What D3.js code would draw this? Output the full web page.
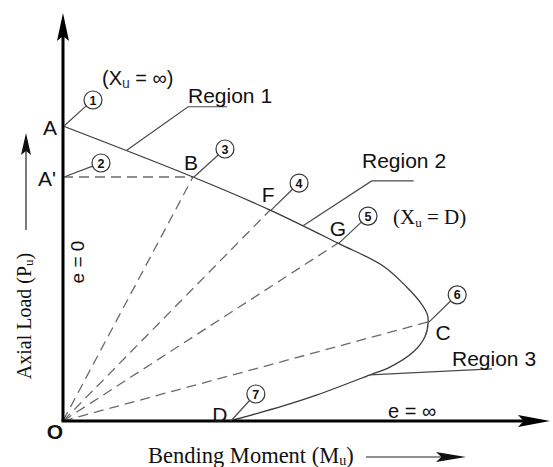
<!DOCTYPE html>
<html>
<head>
<meta charset="utf-8">
<script src="https://cdn.jsdelivr.net/npm/d3@7"></script>
<style>
    body { margin: 0; background: #fff; }
    svg { display: block; }
    .curve { fill: none; stroke: #3a3a3a; stroke-width: 1.3; }
    .radial { fill: none; stroke: #6a6a6a; stroke-width: 1.3; stroke-dasharray: 10 6; }
    .leader { fill: none; stroke: #4a4a4a; stroke-width: 1.2; }
    .sans { font-family: "Liberation Sans", Arial, sans-serif; fill: #111; }
    .serif { font-family: "Liberation Serif", "Times New Roman", serif; fill: #111; }
</style>
</head>
<body>
<svg width="553" height="467"></svg>
<script>
// interaction curve, bending moment (M) vs axial load (P), arbitrary units
const curveM = [0, 26.8, 42.7, 56.7, 66.0, 70.9, 73.6, 75.1, 75.3, 74.6, 72.2, 67.4, 63.3, 52.4, 45.4, 34.4];
const curveP = [72.3, 59.8, 51.7, 43.6, 38.0, 32.8, 29.2, 26.2, 24.3, 20.6, 16.9, 13.2, 11.3, 6.4, 3.7, 0];

// labelled points and their numbered eccentricity lines
const pointNames = ["A", "A'", "B", "F", "G", "C", "D"];
const pointM = [0, 0, 26.8, 42.7, 56.7, 75.3, 34.4];
const pointP = [72.3, 59.8, 59.8, 51.7, 43.6, 24.3, 0];
const pointNums = ["1", "2", "3", "4", "5", "6", "7"];

// dashed lines from the origin (to B, F, G, C)
const radialTo = ["B", "F", "G", "C"];

const regionNames = ["Region 1", "Region 2", "Region 3"];

const svg = d3.select("svg");

const x = d3.scaleLinear().domain([0, 100]).range([63, 548]);
const y = d3.scaleLinear().domain([0, 100]).range([421, 13]);

const pts = pointNames.map((n, i) => ({ name: n, m: pointM[i], p: pointP[i], num: pointNums[i] }));
const byName = n => pts.find(d => d.name === n);

// dashed radial lines
svg.append("g").selectAll("line").data(radialTo).join("line")
    .attr("class", "radial")
    .attr("x1", x(0)).attr("y1", y(0))
    .attr("x2", d => x(byName(d).m)).attr("y2", d => y(byName(d).p));

// A' to B horizontal dash
svg.append("line").attr("class", "radial")
    .attr("x1", x(byName("A'").m)).attr("y1", y(byName("A'").p))
    .attr("x2", x(byName("B").m)).attr("y2", y(byName("B").p));

// interaction curve
const curveData = curveM.map((m, i) => [m, curveP[i]]);
const line = d3.line().x(d => x(d[0])).y(d => y(d[1])).curve(d3.curveCatmullRom.alpha(0.5));
svg.append("path").attr("class", "curve").attr("d", line(curveData));

// axes with arrow heads
const arrowHead = (tx, ty, dir, len, half) => {
    // dir: unit vector pointing toward tip
    const [dx, dy] = dir;
    const bx = tx - dx * len, by = ty - dy * len;
    const nx = -dy, ny = dx;
    const mx = tx - dx * len * 0.82, my = ty - dy * len * 0.82;
    return `M${tx},${ty}L${bx + nx * half},${by + ny * half}L${mx},${my}L${bx - nx * half},${by - ny * half}Z`;
};

svg.append("line").attr("x1", x(0)).attr("y1", y(0)).attr("x2", x(0)).attr("y2", y(100) + 20)
    .attr("stroke", "#000").attr("stroke-width", 3);
svg.append("path").attr("d", arrowHead(x(0), y(100), [0, -1], 28, 6)).attr("fill", "#000");

svg.append("line").attr("x1", x(0) - 1.5).attr("y1", y(0)).attr("x2", x(100) - 20).attr("y2", y(0))
    .attr("stroke", "#000").attr("stroke-width", 3);
svg.append("path").attr("d", arrowHead(x(100) + 2, y(0), [1, 0], 32, 6)).attr("fill", "#000");

// numbered circles and point letters
const labelOff = { "A": [-13, 1], "A'": [-16, 1], "B": [-2, -15], "F": [-2, -16], "G": [0, -15], "C": [15, 11], "D": [-10, -7] };
const circOff = { "A": [30, -26], "A'": [38, -14], "B": [32, -28], "F": [29, -27], "G": [30, -27], "C": [29, -27], "D": [26, -27] };
const r = 9;

const ann = svg.append("g");
pts.forEach(d => {
    const px = x(d.m), py = y(d.p);
    const [cx, cy] = [px + circOff[d.name][0], py + circOff[d.name][1]];
    const len = Math.hypot(cx - px, cy - py);
    ann.append("line").attr("class", "leader")
        .attr("x1", px + 1).attr("y1", py)
        .attr("x2", cx - (cx - px) / len * r).attr("y2", cy - (cy - py) / len * r);
    ann.append("circle").attr("cx", cx).attr("cy", cy).attr("r", r)
        .attr("fill", "#fff").attr("stroke", "#333").attr("stroke-width", 1.2);
    ann.append("text").attr("class", "sans").attr("x", cx).attr("y", cy + 4.5)
        .attr("text-anchor", "middle").attr("font-size", 12.5).attr("font-weight", "bold").text(d.num);
    ann.append("text").attr("class", "sans")
        .attr("x", px + labelOff[d.name][0]).attr("y", py + labelOff[d.name][1] + 7.5)
        .attr("text-anchor", "middle").attr("font-size", 21).text(d.name);
});

// region leaders
const lerp = (a, b, t) => [a.m + (b.m - a.m) * t, a.p + (b.p - a.p) * t];
const regionStart = [
    lerp(byName("A"), byName("B"), 0.485),
    lerp(byName("F"), byName("G"), 0.48),
    curveData[12]
];
const regionPath = [
    [[62, -44], [101, -44]],
    [[69, -45], [111, -45]],
    [[122, -6]]
];
const regionText = [[188, 103], [362, 168], [452, 366]];

regionNames.forEach((name, i) => {
    const [sx, sy] = [x(regionStart[i][0]), y(regionStart[i][1])];
    const pathPts = [[sx, sy]].concat(regionPath[i].map(o => [sx + o[0], sy + o[1]]));
    svg.append("path").attr("class", "leader").attr("d", d3.line()(pathPts));
    svg.append("text").attr("class", "sans").attr("x", regionText[i][0]).attr("y", regionText[i][1])
        .attr("font-size", 21).text(name);
});

// other texts
const t1 = svg.append("text").attr("class", "sans").attr("x", 102).attr("y", 85).attr("font-size", 20);
t1.append("tspan").text("(X");
t1.append("tspan").attr("font-size", 14).attr("dy", 3).attr("fill", "#335").text("u");
t1.append("tspan").attr("dy", -3).text(" = \u221e)");

const t2 = svg.append("text").attr("class", "serif").attr("x", 393).attr("y", 224).attr("font-size", 21);
t2.append("tspan").text("(X");
t2.append("tspan").attr("font-size", 13).attr("dy", 3).text("u");
t2.append("tspan").attr("dy", -3).text(" = D)");

svg.append("text").attr("class", "sans").attr("x", 388).attr("y", 418).attr("font-size", 20).text("e = \u221e");
svg.append("text").attr("class", "sans").attr("transform", "translate(84,262) rotate(-90)")
    .attr("text-anchor", "middle").attr("font-size", 19).text("e = 0");
svg.append("text").attr("class", "sans").attr("x", 55).attr("y", 439).attr("text-anchor", "middle")
    .attr("font-size", 21).attr("font-weight", "bold").text("O");

// axis titles
const yt = svg.append("text").attr("class", "serif").attr("transform", "translate(31,316) rotate(-90)")
    .attr("text-anchor", "middle").attr("font-size", 20);
yt.append("tspan").text("Axial Load (P");
yt.append("tspan").attr("font-size", 13).attr("dy", 2).text("u");
yt.append("tspan").attr("dy", -2).text(")");

svg.append("line").attr("x1", 26).attr("y1", 230).attr("x2", 26).attr("y2", 150)
    .attr("stroke", "#222").attr("stroke-width", 1.2);
svg.append("path").attr("d", arrowHead(26, 133, [0, -1], 22, 5)).attr("fill", "#111");

const xt = svg.append("text").attr("class", "serif").attr("x", 148).attr("y", 463).attr("font-size", 22.5);
xt.append("tspan").text("Bending Moment (M");
xt.append("tspan").attr("font-size", 14).attr("dy", 2).text("u");
xt.append("tspan").attr("dy", -2).text(")");

svg.append("line").attr("x1", 366).attr("y1", 457).attr("x2", 445).attr("y2", 457)
    .attr("stroke", "#222").attr("stroke-width", 1.2);
svg.append("path").attr("d", arrowHead(466, 457, [1, 0], 30, 5)).attr("fill", "#111");
</script>
</body>
</html>
